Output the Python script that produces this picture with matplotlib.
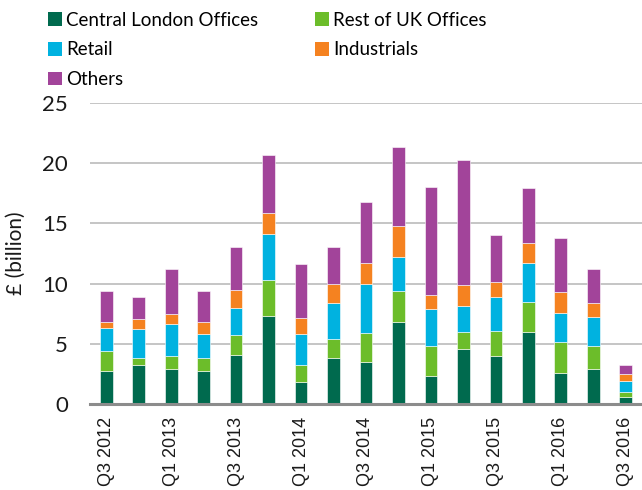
import matplotlib
matplotlib.use("Agg")
import matplotlib.pyplot as plt
import numpy as np
from matplotlib.patches import Patch

quarters = ["Q3 2012", "Q4 2012", "Q1 2013", "Q2 2013", "Q3 2013", "Q4 2013",
            "Q1 2014", "Q2 2014", "Q3 2014", "Q4 2014", "Q1 2015", "Q2 2015",
            "Q3 2015", "Q4 2015", "Q1 2016", "Q2 2016", "Q3 2016"]
central_london = [2.7, 3.2, 2.9, 2.7, 4.05, 7.35, 1.8, 3.8, 3.5, 6.85, 2.35, 4.6, 4.0, 5.95, 2.55, 2.9, 0.6]
rest_uk = [1.7, 0.65, 1.1, 1.1, 1.7, 2.95, 1.45, 1.6, 2.4, 2.5, 2.5, 1.4, 2.1, 2.55, 2.6, 1.95, 0.4]
retail = [1.9, 2.35, 2.65, 2.0, 2.25, 3.8, 2.6, 3.0, 4.1, 2.85, 3.0, 2.15, 2.75, 3.25, 2.4, 2.4, 0.9]
industrials = [0.55, 0.85, 0.8, 1.0, 1.45, 1.8, 1.3, 1.6, 1.7, 2.55, 1.2, 1.75, 1.3, 1.6, 1.75, 1.1, 0.6]
others = [2.5, 1.8, 3.75, 2.55, 3.55, 4.8, 4.5, 3.05, 5.1, 6.6, 9.0, 10.35, 3.9, 4.6, 4.5, 2.9, 0.7]

series = [
    ("Central London Offices", central_london, "#006a4e"),
    ("Rest of UK Offices", rest_uk, "#6cbd2a"),
    ("Retail", retail, "#00b2e0"),
    ("Industrials", industrials, "#f58220"),
    ("Others", others, "#a2449a"),
]

main_font = ["Lato", "DejaVu Sans"]
tick_font = ["Liberation Sans", "DejaVu Sans"]

fig = plt.figure(figsize=(6.42, 4.90), dpi=100)
ax = fig.add_axes([90/642, 1 - 404/490, 1 - 90/642, (404 - 103)/490])

x = np.arange(len(quarters))
bottom = np.zeros(len(quarters))
handles = {}
for name, vals, col in series:
    v = np.array(vals)
    ax.bar(x, v, width=0.39, bottom=bottom, color=col, edgecolor="white",
           linewidth=0.4, zorder=3)
    bottom += v
    handles[name] = Patch(facecolor=col, edgecolor="none")

ax.set_xlim(-0.5, len(quarters) - 0.5)
ax.set_ylim(0, 25)
ax.set_yticks([0, 5, 10, 15, 20, 25])
ax.yaxis.grid(True, color="#c0c0c0", linewidth=1.3, zorder=0)
ax.set_axisbelow(True)
for s in ["top", "right", "left"]:
    ax.spines[s].set_visible(False)
ax.spines["bottom"].set_color("#8c8c8c")
ax.spines["bottom"].set_linewidth(2.2)
ax.spines["bottom"].set_zorder(4)

ax.set_xticks(x[::2])
ax.set_xticklabels(quarters[::2], rotation=90, fontsize=13, family=tick_font, color="#1a1a1a")
ax.tick_params(axis="x", length=0, pad=9)
ax.tick_params(axis="y", length=0, pad=16, labelsize=16, labelcolor="#1a1a1a")
for lab in ax.get_yticklabels():
    lab.set_family(main_font)

ax.set_ylabel("£ (billion)", fontsize=15, family=main_font, color="#1a1a1a", labelpad=12)

order = ["Central London Offices", "Retail", "Others", "Rest of UK Offices", "Industrials"]
fig.legend([handles[n] for n in order], order, ncol=2, loc="upper left",
           bbox_to_anchor=(40/642, 1 - 4/490), frameon=False,
           prop={"family": main_font, "size": 13.5},
           handlelength=0.75, handleheight=0.75, handletextpad=0.25,
           columnspacing=3.0, labelspacing=0.68, borderaxespad=0)

fig.savefig("out.png", dpi=100)
